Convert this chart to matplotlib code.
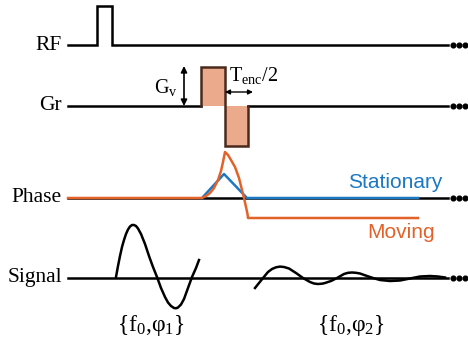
import matplotlib.pyplot as plt
from matplotlib.patches import Polygon

plt.rcParams['mathtext.fontset'] = 'custom'
plt.rcParams['mathtext.rm'] = 'Liberation Serif'
plt.rcParams['mathtext.it'] = 'Liberation Serif:italic'

# --- data (pixel space of the 468x341 picture, y grows downward) ---
row_labels = ['RF', 'Gr', 'Phase', 'Signal']
row_y = [45, 106, 198, 277.5]
x_start, x_end = 68, 448
dots_x = [453, 459, 465]

rf_x = [68, 97, 97, 112, 112, 448]
rf_y = [45, 45, 6, 6, 45, 45]

# bipolar gradient lobe outline
grad_x = [201, 201, 225, 225, 248, 248]
grad_y = [106, 67, 67, 146, 146, 106]

# phase traces
stat_x = [202, 224, 247, 418]
stat_y = [198, 174, 198, 198]
mov_x = [68, 202, 206, 210, 214, 218, 221, 223, 225, 228, 231, 235, 239, 242, 244, 246, 247.5, 248, 418]
mov_y = [198, 198, 196, 193, 188, 180, 171, 162, 152, 155, 160, 167, 178, 190, 198, 207, 214, 218, 218]

# signal echoes
sig1_x = [116, 118, 120, 122, 124, 126, 128, 130, 132, 134, 136, 138, 141, 145, 149, 153, 157, 161, 165,
          168, 171, 174, 176, 178, 181, 184, 188, 192, 196, 199]
sig1_y = [277, 266, 256, 247, 240, 234, 229.5, 226.5, 225, 225, 226, 228.5, 234, 244, 256, 267, 277, 288, 297,
          302.5, 306, 308, 308.3, 307.5, 304.5, 299, 288, 277, 268, 260]
sig2_x = [255, 259, 263, 268, 272, 276, 280, 284, 289, 296, 303, 310, 314, 318, 322, 325, 331, 337, 344, 348,
          352, 356, 360, 367, 373, 380, 390, 400, 410, 420, 430, 438, 445]
sig2_y = [288, 283, 278, 272, 269, 267.3, 266.6, 267, 268.5, 273, 278, 282, 283.5, 284, 283.7, 283, 281, 278, 274,
          272.8, 272.5, 272.8, 273.5, 276, 278, 280, 281, 280.5, 278.5, 276.5, 276, 276.5, 277.5]

echo_labels = ['{f$_0$,φ$_1$}', '{f$_0$,φ$_2$}']
echo_x = [151, 351]

orange = '#E2622A'
blue = '#1B78C2'
lobe_fill = '#EBAA8C'
lobe_edge = '#4A2A1E'

fig = plt.figure(figsize=(4.68, 3.41), dpi=100)
ax = fig.add_axes([0, 0, 1, 1])
ax.set_xlim(0, 468)
ax.set_ylim(341, 0)
ax.axis('off')

serif = 'Liberation Serif'
sans = 'Liberation Sans'
lw = 1.8

# baselines, labels and trailing dots
for name, y in zip(row_labels, row_y):
    if name not in ('RF', 'Gr'):
        ax.plot([x_start, x_end], [y, y], color='black', lw=lw, zorder=1)
    ax.text(62, y, name, family=serif, fontsize=15.5, ha='right', va='center')
    ax.plot(dots_x, [y] * 3, 'o', color='black', ms=3.4, zorder=3)

# RF pulse
ax.plot(rf_x, rf_y, color='black', lw=lw, solid_joinstyle='miter')

# Gr: baseline pieces + lobes
ax.plot([x_start, grad_x[0]], [106, 106], color='black', lw=lw)
ax.plot([grad_x[-1], x_end], [106, 106], color='black', lw=lw)
ax.add_patch(Polygon([(201, 106), (201, 67), (225, 67), (225, 106)], closed=True,
                     facecolor=lobe_fill, edgecolor='none'))
ax.add_patch(Polygon([(225, 106), (225, 146), (248, 146), (248, 106)], closed=True,
                     facecolor=lobe_fill, edgecolor='none'))
ax.plot(grad_x, grad_y, color=lobe_edge, lw=lw, solid_joinstyle='miter')

# Gv arrow and label
ax.annotate('', xy=(184, 66), xytext=(184, 106),
            arrowprops=dict(arrowstyle='<|-|>', color='black', lw=1.2, mutation_scale=9, shrinkA=0, shrinkB=0))
ax.text(178, 88, r'$\mathregular{G_v}$', family=serif, fontsize=14.5, ha='right', va='center')

# Tenc/2 arrow and label
ax.annotate('', xy=(225, 92), xytext=(253, 92),
            arrowprops=dict(arrowstyle='<|-|>', color='black', lw=1.0, mutation_scale=7, shrinkA=0, shrinkB=0))
ax.text(229, 76, r'$\mathregular{T_{enc}/2}$', family=serif, fontsize=14.5, ha='left', va='center')

# phase curves
ax.plot(stat_x, stat_y, color=blue, lw=lw, zorder=2)
ax.plot(mov_x, mov_y, color=orange, lw=lw, zorder=2)
ax.text(442, 183, 'Stationary', family=sans, fontsize=15, color=blue, ha='right', va='center')
ax.text(435, 232.5, 'Moving', family=sans, fontsize=15, color=orange, ha='right', va='center')

# signal
ax.plot(sig1_x, sig1_y, color='black', lw=lw)
ax.plot(sig2_x, sig2_y, color='black', lw=lw)
for lab, x in zip(echo_labels, echo_x):
    ax.text(x, 325, lab, family=serif, fontsize=17, ha='center', va='center')

fig.savefig('out.png', dpi=100)
